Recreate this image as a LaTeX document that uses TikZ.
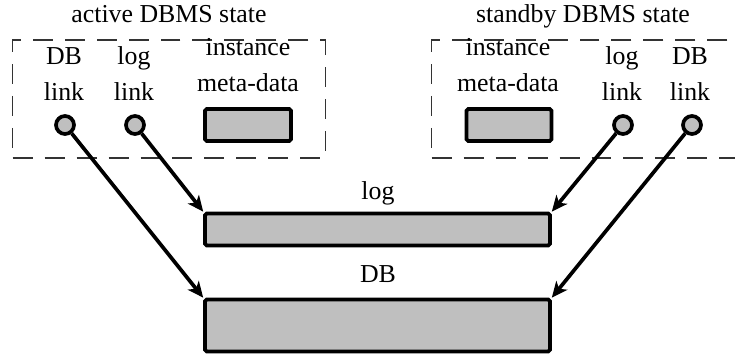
\documentclass[tikz,border=0pt]{standalone}
\usepackage{fontspec}
\setmainfont{Liberation Serif}
\usetikzlibrary{arrows.meta}

\begin{document}
\begin{tikzpicture}[x=0.02cm,y=-0.02cm,->,>={Stealth[length=9pt,width=8pt,inset=2.5pt]},line width=2.1pt,
                    node distance=0.72cm,font=\fontsize{14.7}{18}\selectfont]
  \tikzstyle{word}=[inner sep=0pt,text height=1.6ex,text depth=0.4ex]
  \tikzstyle{port}=[circle,draw=black,fill=gray!50,minimum size=0.36cm,inner sep=0pt]
  \tikzstyle{store}=[rectangle,draw=black,fill=gray!50,minimum width=6.9cm,inner sep=0pt,rounded corners=1pt]
  \tikzstyle{meta}=[rectangle,draw=black,fill=gray!50,minimum height=0.64cm,inner sep=0pt,rounded corners=1pt]
  \tikzstyle{state box}=[rectangle,draw=black!80,line width=0.7pt,dash pattern=on 0.4cm off 0.24cm,
                         minimum width=6.26cm,minimum height=2.36cm]

  \useasboundingbox (0,0) rectangle (735,354);

  % dbms states
  \node[state box] (activebox)  at (169,99) {};
  \node[state box] (standbybox) at (588,99) {};
  \node[word] (activetitle)  at (169,18) {active DBMS state};
  \node[word] (standbytitle) at (583,18) {standby DBMS state};

  \node[word] (dbA)      at (64,60)       {DB};
  \node[word] (dblinkA)  [below of=dbA]   {link};
  \node[word] (logA)     at (134,60)      {log};
  \node[word] (loglinkA) [below of=logA]  {link};
  \node[word] (instA)    at (248,51)      {instance};
  \node[word] (metaA)    [below of=instA] {meta-data};
  \node[meta,minimum width=1.72cm] (metaboxA) at (248,125) {};
  \node[port] (dbportA)  at (65,125) {};
  \node[port] (logportA) [right of=dbportA,node distance=1.4cm] {};

  \node[word] (instB)    at (508,51)      {instance};
  \node[word] (metaB)    [below of=instB] {meta-data};
  \node[meta,minimum width=1.7cm] (metaboxB) at (509,125) {};
  \node[word] (logB)     at (622,60)      {log};
  \node[word] (loglinkB) [below of=logB]  {link};
  \node[word] (dbB)      at (690,60)      {DB};
  \node[word] (dblinkB)  [below of=dbB]   {link};
  \node[port] (logportB) at (623,125) {};
  \node[port] (dbportB)  [right of=logportB,node distance=1.38cm] {};

  % shared storage
  \node[store,minimum height=0.64cm] (logbar) at (377.5,229.5) {};
  \node[store,minimum height=1.04cm] (dbbar)  at (377.5,325.5) {};
  \node[word] (logtitle) at (378,195) {log};
  \node[word] (dbtitle)  at (378,278) {DB};

  \path (dbportA)  edge (dbbar.north west)
        (logportA) edge (logbar.north west)
        (logportB) edge (logbar.north east)
        (dbportB)  edge (dbbar.north east);
\end{tikzpicture}
\end{document}
